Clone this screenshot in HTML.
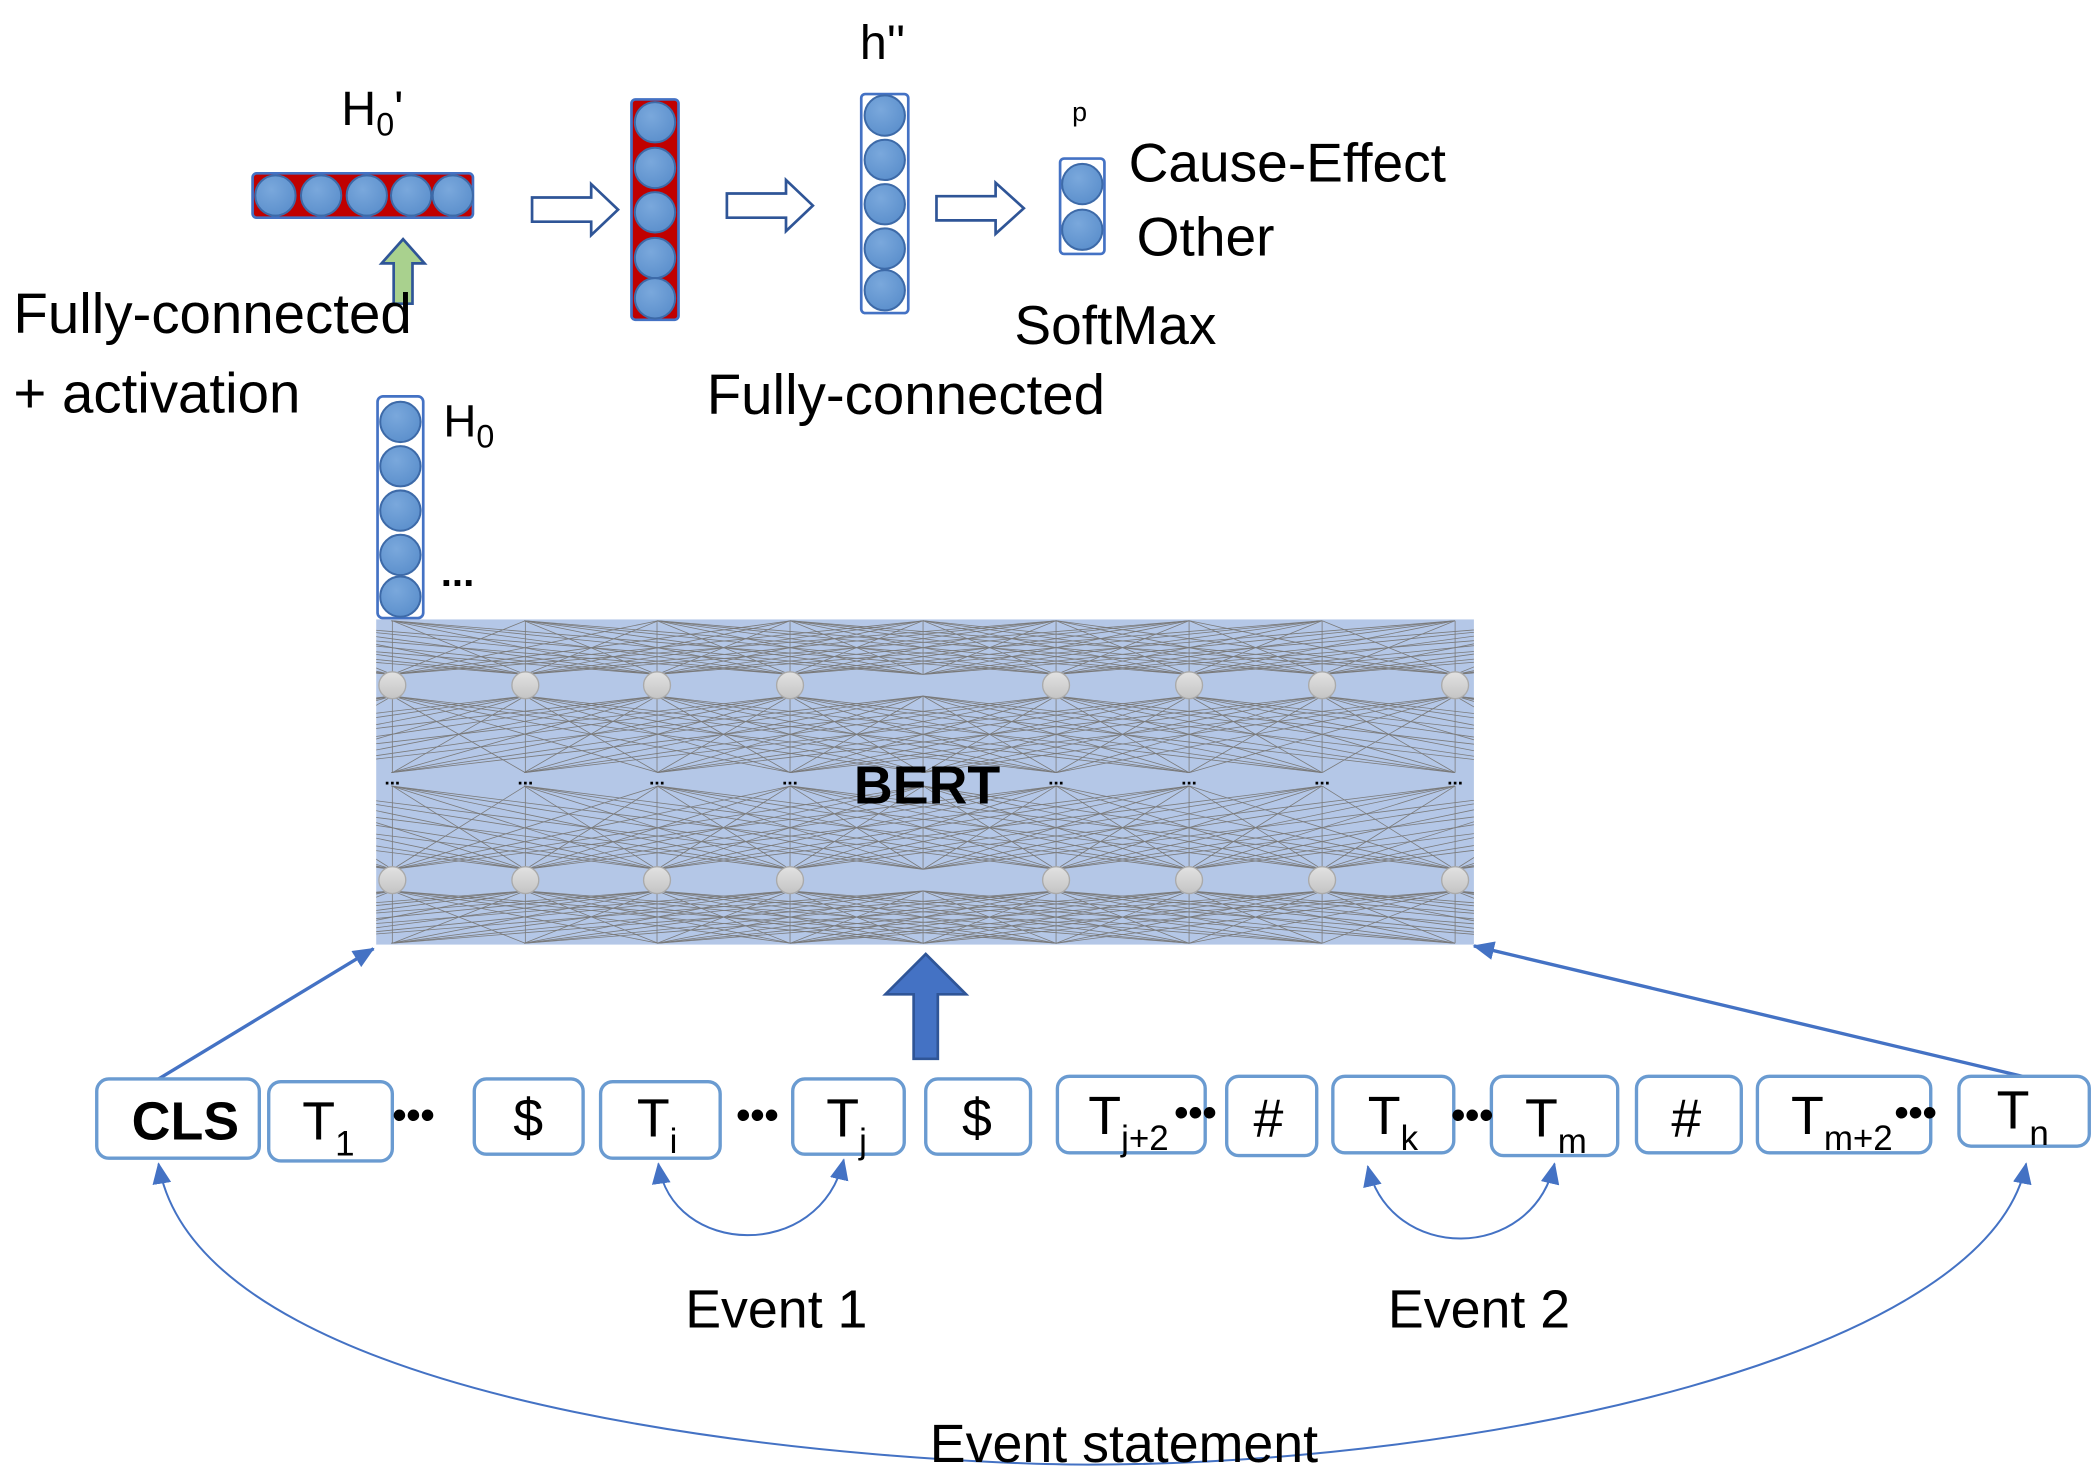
<!DOCTYPE html>
<html><head><meta charset="utf-8"><style>
html,body{margin:0;padding:0;background:#fff;}
svg{display:block;}
text{font-family:"Liberation Sans",sans-serif;fill:#000;}
</style></head><body>
<svg width="2096" height="1474" viewBox="0 0 1560 1097" preserveAspectRatio="none" xmlns="http://www.w3.org/2000/svg">
<defs>
<radialGradient id="bc" cx="40%" cy="35%" r="70%"><stop offset="0" stop-color="#7aa8dc"/><stop offset="1" stop-color="#5b8fcc"/></radialGradient>
<linearGradient id="gc" x1="0" y1="0" x2="0" y2="1"><stop offset="0" stop-color="#e2e2e2"/><stop offset="1" stop-color="#c4c4c4"/></linearGradient>
<marker id="ah" markerWidth="16" markerHeight="14" refX="15" refY="7" orient="auto-start-reverse" markerUnits="userSpaceOnUse"><path d="M0,0 L16,7 L0,14 z" fill="#4472c4"/></marker>
<marker id="ah2" markerWidth="16" markerHeight="14" refX="15" refY="7" orient="auto" markerUnits="userSpaceOnUse"><path d="M0,0 L16,7 L0,14 z" fill="#4472c4"/></marker>
<clipPath id="bx"><rect x="280" y="461" width="817" height="242"/></clipPath>
<path id="fan" vector-effect="non-scaling-stroke" d="M0,0L98.9,1M0,0L197.8,1M0,0L296.7,1M0,0L395.6,1M0,0L494.5,1M0,0L-98.9,1M0,0L-197.8,1M0,0L-296.7,1M0,0L-395.6,1M0,0L-494.5,1M0,0L0,1"/>
<g id="col">
<use href="#fan" transform="translate(0,502) scale(1,-40)"/>
<use href="#fan" transform="translate(0,518) scale(1,57)"/>
<use href="#fan" transform="translate(0,647) scale(1,-62)"/>
<use href="#fan" transform="translate(0,663) scale(1,39)"/>
</g>
</defs>

<rect x="280" y="461" width="817" height="242" fill="#b4c7e7"/>
<g clip-path="url(#bx)" stroke="#7a7a7a" stroke-width="0.8" fill="none">
<use href="#col" x="292"/><use href="#col" x="391"/><use href="#col" x="489"/><use href="#col" x="588"/>
<use href="#col" x="687"/><use href="#col" x="786"/><use href="#col" x="885"/><use href="#col" x="984"/><use href="#col" x="1083"/>
</g>
<g fill="url(#gc)" stroke="#aaa">
<circle cx="292" cy="510" r="10"/><circle cx="391" cy="510" r="10"/><circle cx="489" cy="510" r="10"/><circle cx="588" cy="510" r="10"/><circle cx="786" cy="510" r="10"/><circle cx="885" cy="510" r="10"/><circle cx="984" cy="510" r="10"/><circle cx="1083" cy="510" r="10"/>
<circle cx="292" cy="655" r="10"/><circle cx="391" cy="655" r="10"/><circle cx="489" cy="655" r="10"/><circle cx="588" cy="655" r="10"/><circle cx="786" cy="655" r="10"/><circle cx="885" cy="655" r="10"/><circle cx="984" cy="655" r="10"/><circle cx="1083" cy="655" r="10"/>
</g>
<g font-size="14" font-weight="bold" text-anchor="middle">
<text x="292" y="584">...</text><text x="391" y="584">...</text><text x="489" y="584">...</text><text x="588" y="584">...</text><text x="786" y="584">...</text><text x="885" y="584">...</text><text x="984" y="584">...</text><text x="1083" y="584">...</text>
</g>
<text x="690" y="598" font-size="40" font-weight="bold" text-anchor="middle">BERT</text>

<rect x="281" y="295" width="34" height="165" rx="4" fill="#fff" stroke="#4472c4" stroke-width="2"/>
<g fill="url(#bc)" stroke="#3d6aa8" stroke-width="1.5">
<circle cx="298" cy="314" r="15"/><circle cx="298" cy="347" r="15"/><circle cx="298" cy="380" r="15"/><circle cx="298" cy="413" r="15"/><circle cx="298" cy="444" r="15"/>
</g>
<text x="330" y="325" font-size="34">H<tspan font-size="24" dy="8">0</tspan></text>
<text x="328" y="436" font-size="30" font-weight="bold">...</text>

<rect x="188" y="129" width="164" height="33" rx="3" fill="#c00000" stroke="#4472c4" stroke-width="2"/>
<g fill="url(#bc)" stroke="#3d6aa8" stroke-width="1.5">
<circle cx="205" cy="145.5" r="15"/><circle cx="239" cy="145.5" r="15"/><circle cx="273" cy="145.5" r="15"/><circle cx="306" cy="145.5" r="15"/><circle cx="337" cy="145.5" r="15"/>
</g>
<text x="254" y="93" font-size="36">H<tspan font-size="24" dy="8">0</tspan><tspan dy="-8">'</tspan></text>
<path d="M293,226 L293,196 L284,196 L300,178 L316,196 L307,196 L307,226 z" fill="#a9d18e" stroke="#2f5597" stroke-width="2"/>

<g fill="#fff" stroke="#2f5597" stroke-width="2">
<path d="M396,147 L440,147 L440,137 L460,156 L440,175 L440,165 L396,165 z"/>
<path d="M541,144 L585,144 L585,134 L605,153 L585,172 L585,162 L541,162 z"/>
<path d="M697,146 L741,146 L741,136 L762,155 L741,174 L741,164 L697,164 z"/>
</g>

<rect x="470" y="74" width="35" height="164" rx="3" fill="#c00000" stroke="#4472c4" stroke-width="2"/>
<g fill="url(#bc)" stroke="#3d6aa8" stroke-width="1.5">
<circle cx="487.5" cy="91" r="15"/><circle cx="487.5" cy="125" r="15"/><circle cx="487.5" cy="158" r="15"/><circle cx="487.5" cy="192" r="15"/><circle cx="487.5" cy="222" r="15"/>
</g>

<rect x="641" y="70" width="35" height="163" rx="3" fill="#fff" stroke="#4472c4" stroke-width="2"/>
<g fill="url(#bc)" stroke="#3d6aa8" stroke-width="1.5">
<circle cx="658.5" cy="86" r="15"/><circle cx="658.5" cy="119" r="15"/><circle cx="658.5" cy="152" r="15"/><circle cx="658.5" cy="185" r="15"/><circle cx="658.5" cy="216" r="15"/>
</g>
<text x="640" y="44" font-size="36">h''</text>

<rect x="789" y="118" width="33" height="71" rx="3" fill="#fff" stroke="#4472c4" stroke-width="2"/>
<g fill="url(#bc)" stroke="#3d6aa8" stroke-width="1.5">
<circle cx="805.5" cy="137" r="15"/><circle cx="805.5" cy="171" r="15"/>
</g>
<text x="798" y="90" font-size="20">p</text>
<text x="840" y="135" font-size="41">Cause-Effect</text>
<text x="846" y="190" font-size="41">Other</text>
<text x="755" y="256" font-size="41">SoftMax</text>
<text x="526" y="308" font-size="42">Fully-connected</text>
<text x="10" y="248" font-size="42">Fully-connected</text>
<text x="10" y="307" font-size="42">+ activation</text>

<path d="M680,788 L680,740 L659,740 L689,710 L719,740 L698,740 L698,788 z" fill="#4472c4" stroke="#2f5597" stroke-width="2"/>

<line x1="118" y1="803" x2="278" y2="706" stroke="#4472c4" stroke-width="2.5" marker-end="url(#ah2)"/>
<line x1="1505" y1="801" x2="1097" y2="704" stroke="#4472c4" stroke-width="2.5" marker-end="url(#ah2)"/>

<g fill="#fff" stroke="#6a9bd1" stroke-width="2.5">
<rect x="72" y="803" width="121" height="59" rx="9"/>
<rect x="200" y="805" width="92" height="59" rx="9"/>
<rect x="353" y="803" width="81" height="56" rx="9"/>
<rect x="447" y="805" width="89" height="57" rx="9"/>
<rect x="590" y="803" width="83" height="56" rx="9"/>
<rect x="689" y="803" width="78" height="56" rx="9"/>
<rect x="787" y="801" width="110" height="57" rx="9"/>
<rect x="913" y="801" width="67" height="59" rx="9"/>
<rect x="992" y="801" width="90" height="57" rx="9"/>
<rect x="1110" y="801" width="94" height="59" rx="9"/>
<rect x="1218" y="801" width="78" height="57" rx="9"/>
<rect x="1308" y="801" width="129" height="57" rx="9"/>
<rect x="1458" y="801" width="97" height="52" rx="9"/>
</g>
<g font-size="40">
<text x="98" y="848" font-weight="bold">CLS</text>
<text x="225" y="848">T<tspan font-size="26" dy="12">1</tspan></text>
<text x="292" y="840" font-weight="bold" font-size="30">•••</text>
<text x="382" y="846">$</text>
<text x="474" y="846">T<tspan font-size="26" dy="12">i</tspan></text>
<text x="548" y="840" font-weight="bold" font-size="30">•••</text>
<text x="615" y="846">T<tspan font-size="26" dy="12">j</tspan></text>
<text x="716" y="846">$</text>
<text x="810" y="844">T<tspan font-size="26" dy="12">j+2</tspan></text>
<text x="874" y="838" font-weight="bold" font-size="30">•••</text>
<text x="933" y="846">#</text>
<text x="1018" y="844">T<tspan font-size="26" dy="12">k</tspan></text>
<text x="1080" y="840" font-weight="bold" font-size="30">•••</text>
<text x="1135" y="846">T<tspan font-size="26" dy="12">m</tspan></text>
<text x="1244" y="846">#</text>
<text x="1333" y="844">T<tspan font-size="26" dy="12">m+2</tspan></text>
<text x="1410" y="838" font-weight="bold" font-size="30">•••</text>
<text x="1486" y="840">T<tspan font-size="26" dy="12">n</tspan></text>
</g>

<g fill="none" stroke="#4472c4" stroke-width="1.5">
<path d="M490,866 C500,935 610,940 628,863" marker-start="url(#ah)" marker-end="url(#ah)"/>
<path d="M1018,868 C1035,940 1140,940 1157,866" marker-start="url(#ah)" marker-end="url(#ah)"/>
<path d="M118,866 C150,1060 680,1090 810,1090 C1100,1090 1480,1010 1508,866" marker-start="url(#ah)" marker-end="url(#ah)"/>
</g>
<text x="510" y="988" font-size="40">Event 1</text>
<text x="1033" y="988" font-size="40">Event 2</text>
<text x="692" y="1088" font-size="40">Event statement</text>
</svg>
</body></html>
